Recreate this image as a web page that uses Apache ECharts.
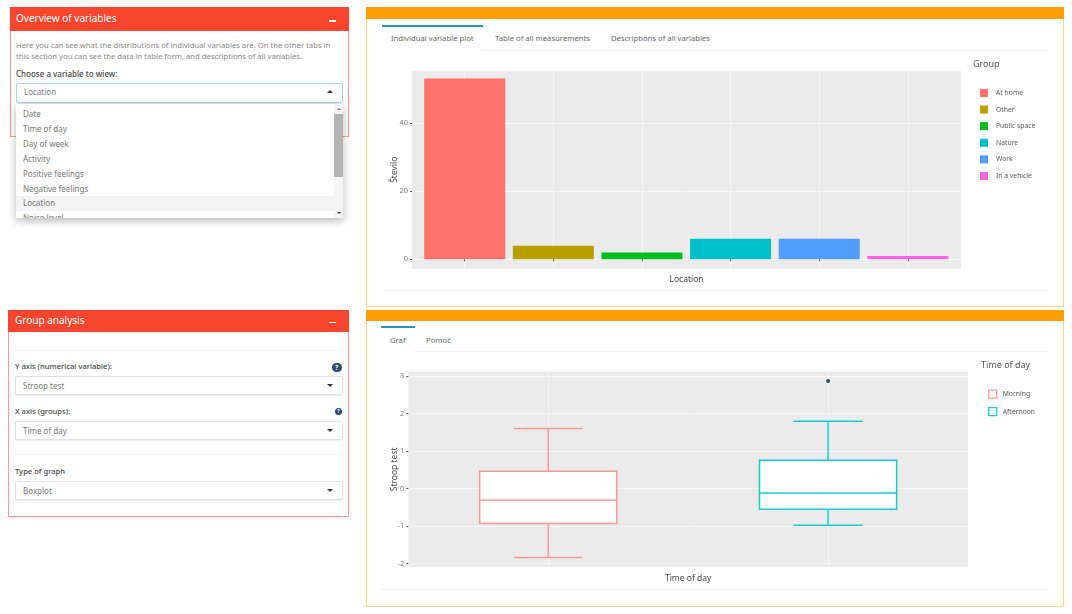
<!DOCTYPE html>
<html>
<head>
<meta charset="utf-8">
<script src="https://cdn.jsdelivr.net/npm/echarts@6/dist/echarts.min.js"></script>
<style>
html,body{margin:0;padding:0;background:#fff;width:1072px;height:614px;overflow:hidden;font-family:"Noto Sans",sans-serif;}
div{position:absolute;box-sizing:border-box;white-space:nowrap;}
.box{border:1px solid #fb9a90;background:#fff;}
.boxO{border:1px solid #fbd58a;background:#fff;}
.head{background:#f8452d;color:#fff;font-size:10px;line-height:23px;padding-left:6px;}
.headO{background:#ff9d00;}
.minus{background:#fff;width:7px;height:1.5px;}
.txt{color:#888;font-size:7.7px;}
.lab{color:#444;font-size:7.6px;font-weight:500;}
.sel{background:#fff;border:1px solid #e2e2e2;border-radius:2px;color:#777;font-size:8px;line-height:17px;padding-left:7px;box-shadow:0 1px 1px #eee;}
.arrow{width:0;height:0;border-left:3px solid transparent;border-right:3px solid transparent;border-top:3px solid #333;}
.rule{background:#f3f3f3;height:1px;}
.tab{color:#666;font-size:7.7px;}
.tabline{background:#2a8fc4;height:1.5px;}
.opt{color:#777;font-size:8px;left:7px;}
.help{background:#2c4a73;color:#fff;border-radius:50%;text-align:center;font-weight:bold;}
</style>
</head>
<body>
<!-- left panels -->
<div class="box" style="left:10px;top:7px;width:339px;height:130px;"></div>
<div class="head" style="left:10px;top:7px;width:339px;height:24px;">Overview of variables</div>
<div class="minus" style="left:329px;top:20px;"></div>
<div class="txt" style="left:16px;top:40px;">Here you can see what the distributions of individual variables are. On the other tabs in</div>
<div class="txt" style="left:16px;top:51px;">this section you can see the data in table form, and descriptions of all variables.</div>
<div class="lab" style="left:16px;top:68px;font-size:8px;">Choose a variable to wiew:</div>
<div class="sel" style="left:16px;top:83px;width:327px;height:19.5px;border:1.5px solid #9cd3ea;line-height:16.5px;">Location</div>
<div class="arrow" style="left:327px;top:90px;border-top:0;border-bottom:3px solid #333;"></div>
<div style="left:16px;top:104px;width:326.5px;height:114px;background:#fff;box-shadow:0 3px 9px rgba(0,0,0,.28);overflow:hidden;">
  <div style="left:0;top:92px;width:318px;height:15px;background:#f3f3f3;"></div>
  <div class="opt" style="top:4px;">Date</div>
  <div class="opt" style="top:19px;">Time of day</div>
  <div class="opt" style="top:34px;">Day of week</div>
  <div class="opt" style="top:49px;">Activity</div>
  <div class="opt" style="top:64px;">Positive feelings</div>
  <div class="opt" style="top:79px;">Negative feelings</div>
  <div class="opt" style="top:93px;">Location</div>
  <div class="opt" style="top:108px;">Noise level</div>
  <div style="left:318px;top:0;width:8.5px;height:114px;background:#f4f4f4;"></div>
  <div style="left:318px;top:10px;width:8.5px;height:63px;background:#b5b5b5;"></div>
  <div class="arrow" style="left:320.5px;top:4px;border-left-width:2px;border-right-width:2px;border-top:0;border-bottom:2px solid #777;"></div>
  <div class="arrow" style="left:320.5px;top:108px;border-left-width:2px;border-right-width:2px;border-top:2px solid #333;"></div>
</div>

<div class="box" style="left:8px;top:310px;width:341px;height:207px;"></div>
<div class="head" style="left:8px;top:310px;width:341px;height:22px;line-height:21px;padding-left:7px;">Group analysis</div>
<div class="minus" style="left:328.5px;top:321.5px;"></div>
<div class="rule" style="left:15px;top:350px;width:328px;"></div>
<div class="lab" style="left:15px;top:361px;">Y axis (numerical variable):</div>
<div class="help" style="left:332px;top:362.5px;width:9.5px;height:9.5px;font-size:7px;line-height:9.5px;">?</div>
<div class="sel" style="left:15px;top:376px;width:327.5px;height:19px;">Stroop test</div>
<div class="arrow" style="left:327px;top:384px;"></div>
<div class="lab" style="left:15px;top:406px;">X axis (groups):</div>
<div class="help" style="left:335px;top:407.5px;width:7px;height:7px;font-size:5px;line-height:7px;">?</div>
<div class="sel" style="left:15px;top:421px;width:327.5px;height:19px;">Time of day</div>
<div class="arrow" style="left:327px;top:429px;"></div>
<div class="rule" style="left:15px;top:454px;width:328px;"></div>
<div class="lab" style="left:15px;top:466px;">Type of graph</div>
<div class="sel" style="left:15px;top:480.5px;width:327.5px;height:19px;">Boxplot</div>
<div class="arrow" style="left:327px;top:489px;"></div>

<!-- right panels -->
<div class="boxO" style="left:366px;top:7px;width:698px;height:300px;"></div>
<div class="headO" style="left:366px;top:7px;width:698px;height:12px;"></div>
<div class="tabline" style="left:381.5px;top:25px;width:101px;"></div>
<div class="tab" style="left:391px;top:33px;">Individual variable plot</div>
<div class="tab" style="left:495px;top:33px;">Table of all measurements</div>
<div class="tab" style="left:611px;top:33px;">Descriptions of all variables</div>
<div class="rule" style="left:482px;top:50px;width:566px;"></div>
<div class="rule" style="left:382px;top:290px;width:666px;"></div>

<div class="boxO" style="left:366px;top:310px;width:698px;height:297px;"></div>
<div class="headO" style="left:366px;top:310px;width:698px;height:10.5px;"></div>
<div class="tabline" style="left:380.5px;top:326px;width:34px;"></div>
<div class="tab" style="left:390px;top:334.5px;">Graf</div>
<div class="tab" style="left:426px;top:334.5px;">Pomoč</div>
<div class="rule" style="left:414px;top:351px;width:634px;"></div>
<div class="rule" style="left:380px;top:589px;width:668px;"></div>

<div id="barChart" style="left:367px;top:52px;width:696px;height:237px;"></div>
<div id="boxChart" style="left:367px;top:352px;width:696px;height:236px;"></div>

<script>
// Location counts
var locations = ['At home', 'Other', 'Public space', 'Nature', 'Work', 'In a vehicle'];
var locationCounts = [53, 4, 2, 6, 6, 1];
var locationColors = ['#fd736b', '#b99f00', '#00bd1e', '#00bfc8', '#4f9eff', '#ff64e4'];
var countTicks = [0, 20, 40];

// Stroop test by time of day: low, q1, median, q3, high
var dayParts = ['Morning', 'Afternoon'];
var morningBox = [-1.84, -0.93, -0.31, 0.46, 1.6];
var afternoonBox = [-0.98, -0.55, -0.12, 0.75, 1.79];
var afternoonOutliers = [2.86];
var dayPartColors = ['#fb9a94', '#12cdd4'];
var stroopTicks = [-2, -1, 0, 1, 2, 3];

var fontName = '"Noto Sans", sans-serif';
var labelStyle = {color: '#7c7c7c', fontSize: 7.5, fontFamily: fontName};
var nameStyle = {color: '#444', fontSize: 8.5, fontFamily: fontName};
var legendTitle = {color: '#555', fontSize: 9, fontWeight: 'normal', fontFamily: fontName};
var legendText = {color: '#555', fontSize: 6.8, fontFamily: fontName, padding: [0, 0, 0, 3]};
var gridLine = {show: true, lineStyle: {color: '#f6f6f6', width: 1}};
var darkTick = {show: true, length: 2, lineStyle: {color: '#555', width: 1}};

var barChart = echarts.init(document.getElementById('barChart'), null, {renderer: 'canvas'});
var barSeries = [];
for (var i = 0; i < locations.length; i++) {
	barSeries.push({
		name: locations[i],
		type: 'bar',
		stack: 'location',
		barWidth: 81,
		itemStyle: {color: locationColors[i]},
		data: [[i + 1, locationCounts[i]]]
	});
}
barChart.setOption({
	animation: false,
	title: {text: 'Group', left: 606, top: 7.5, padding: 0, textStyle: legendTitle},
	legend: {
		orient: 'vertical', left: 613, top: 37, padding: 0,
		itemWidth: 8, itemHeight: 8, itemGap: 8.6, icon: 'rect',
		selectedMode: false, textStyle: legendText,
		data: locations
	},
	grid: {left: 45, top: 18.7, width: 549, height: 198, show: true, backgroundColor: '#ebebeb', borderWidth: 0},
	xAxis: {
		type: 'value', min: 0.405, max: 6.6,
		name: 'Location', nameLocation: 'middle', nameGap: 6, nameTextStyle: nameStyle,
		axisLine: {show: false},
		axisTick: Object.assign({customValues: locations.map(function (d, n) { return n + 1; })}, darkTick),
		axisLabel: {show: false},
		splitLine: gridLine
	},
	yAxis: {
		type: 'value', min: -2.76, max: 55.3,
		name: 'Število', nameLocation: 'middle', nameGap: 13, nameMoveOverlap: false, nameTextStyle: nameStyle,
		axisLine: {show: false},
		axisTick: Object.assign({customValues: countTicks}, darkTick),
		axisLabel: Object.assign({customValues: countTicks, margin: 4}, labelStyle),
		splitLine: gridLine
	},
	series: barSeries
});

function renderBox(color) {
	return function (params, api) {
		var x = api.value(0);
		var band = api.size([1, 0])[0];
		var halfBox = band * 0.245;
		var halfCap = band * 0.1225;
		var cx = api.coord([x, 0])[0];
		var low = api.coord([x, api.value(1)])[1];
		var q1 = api.coord([x, api.value(2)])[1];
		var med = api.coord([x, api.value(3)])[1];
		var q3 = api.coord([x, api.value(4)])[1];
		var high = api.coord([x, api.value(5)])[1];
		var stroke = {stroke: color, lineWidth: 1.5, fill: null};
		function seg(x1, y1, x2, y2) {
			return {type: 'line', shape: {x1: x1, y1: y1, x2: x2, y2: y2}, style: stroke};
		}
		return {
			type: 'group',
			children: [
				seg(cx, high, cx, q3),
				seg(cx, q1, cx, low),
				seg(cx - halfCap, high, cx + halfCap, high),
				seg(cx - halfCap, low, cx + halfCap, low),
				{type: 'rect', shape: {x: cx - halfBox, y: q3, width: halfBox * 2, height: q1 - q3},
					style: {stroke: color, lineWidth: 1.5, fill: '#fff'}},
				seg(cx - halfBox, med, cx + halfBox, med)
			]
		};
	};
}

var boxChart = echarts.init(document.getElementById('boxChart'), null, {renderer: 'canvas'});
boxChart.setOption({
	animation: false,
	title: {text: 'Time of day', left: 614, top: 8.5, padding: 0, textStyle: legendTitle},
	legend: {
		orient: 'vertical', left: 621, top: 37.5, padding: 0,
		itemWidth: 8, itemHeight: 8, itemGap: 8.2, icon: 'rect',
		selectedMode: false,
		textStyle: Object.assign({}, legendText, {padding: [0, 0, 0, 1]}),
		data: [
			{name: dayParts[0], itemStyle: {color: '#fff', borderColor: dayPartColors[0], borderWidth: 1.3}},
			{name: dayParts[1], itemStyle: {color: '#fff', borderColor: dayPartColors[1], borderWidth: 1.3}}
		]
	},
	grid: {left: 41.3, top: 19.7, width: 559.7, height: 196, show: true, backgroundColor: '#ebebeb', borderWidth: 0},
	xAxis: {
		type: 'category', data: dayParts,
		name: 'Time of day', nameLocation: 'middle', nameGap: 7, nameTextStyle: nameStyle,
		axisLine: {show: false},
		axisTick: Object.assign({alignWithLabel: true}, darkTick),
		axisLabel: {show: false},
		splitLine: {show: true, alignWithLabel: true, lineStyle: {color: '#f6f6f6', width: 1}}
	},
	yAxis: {
		type: 'value', min: -2.09, max: 3.11,
		name: 'Stroop test', nameLocation: 'middle', nameGap: 9.6, nameMoveOverlap: false, nameTextStyle: nameStyle,
		axisLine: {show: false},
		axisTick: Object.assign({customValues: stroopTicks}, darkTick),
		axisLabel: Object.assign({customValues: stroopTicks, margin: 4}, labelStyle),
		splitLine: gridLine
	},
	series: [
		{
			name: dayParts[0], type: 'custom', renderItem: renderBox(dayPartColors[0]),
			itemStyle: {color: dayPartColors[0]},
			encode: {x: 0, y: [1, 2, 3, 4, 5]},
			data: [[0].concat(morningBox)]
		},
		{
			name: dayParts[1], type: 'custom', renderItem: renderBox(dayPartColors[1]),
			itemStyle: {color: dayPartColors[1]},
			encode: {x: 0, y: [1, 2, 3, 4, 5]},
			data: [[1].concat(afternoonBox)]
		},
		{
			name: 'Outliers', type: 'scatter', symbolSize: 4,
			itemStyle: {color: '#02202e'},
			data: afternoonOutliers.map(function (v) { return [1, v]; })
		}
	]
});
</script>
</body>
</html>
